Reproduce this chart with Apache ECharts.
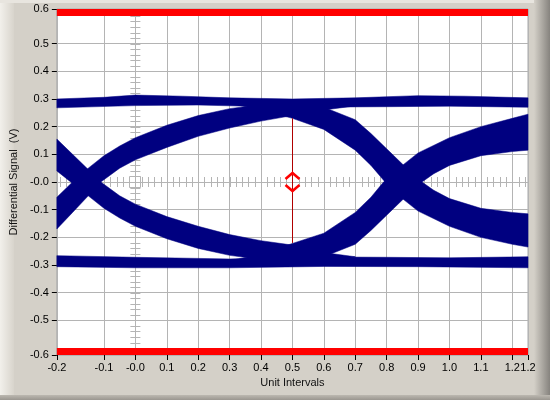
<!DOCTYPE html>
<html><head><meta charset="utf-8">
<script src="https://cdn.jsdelivr.net/npm/echarts@6/dist/echarts.min.js"></script>
<style>html,body{margin:0;padding:0;background:#d4d0c8}#c{width:550px;height:400px}</style>
</head><body><div id="c"></div>
<script>
// ---- axis ranges and tick labels ----
const xMin = -0.25, xMax = 1.25, yMin = -0.625, yMax = 0.625;
const xTickValues = [-0.25,-0.1,0,0.1,0.2,0.3,0.4,0.5,0.6,0.7,0.8,0.9,1.0,1.1,1.2,1.25];
const xTickLabels = ['-0.2','-0.1','-0.0','0.1','0.2','0.3','0.4','0.5','0.6','0.7','0.8','0.9','1.0','1.1','1.2','1.2'];
const yTickValues = [-0.625,-0.5,-0.4,-0.3,-0.2,-0.1,0,0.1,0.2,0.3,0.4,0.5,0.625];
const yTickLabels = ['-0.6','-0.5','-0.4','-0.3','-0.2','-0.1','-0.0','0.1','0.2','0.3','0.4','0.5','0.6'];
const rulerStep = 0.02;

// ---- limit masks ----
const limitHigh = 0.6, limitLow = -0.6;

// ---- eye-height measurement ----
const eyeCenterX = 0.5, eyeTop = 0.23, eyeBottom = -0.22;

// ---- eye diagram bands (x in UI, y in V), each as upper / lower edge ----
const highUpper = [[-0.25,0.300],[-0.1,0.306],[0.0,0.314],[0.15,0.310],[0.3,0.304],[0.5,0.300],[0.7,0.304],[0.9,0.312],[1.05,0.310],[1.25,0.304]];
const highLower = [[-0.25,0.268],[0.0,0.276],[0.2,0.278],[0.5,0.270],[0.8,0.272],[1.0,0.274],[1.25,0.270]];
const lowUpper  = [[-0.25,-0.266],[0.0,-0.272],[0.3,-0.278],[0.5,-0.270],[0.8,-0.272],[1.0,-0.274],[1.25,-0.270]];
const lowLower  = [[-0.25,-0.306],[0.0,-0.310],[0.3,-0.310],[0.6,-0.305],[0.9,-0.306],[1.25,-0.310]];

const rise1Upper = [[-0.25,-0.055],[-0.2,0.0],[-0.15,0.05],[-0.1,0.095],[-0.05,0.13],[0.0,0.16],[0.1,0.205],[0.2,0.24],[0.3,0.265],[0.4,0.28],[0.5,0.29],[0.6,0.295]];
const rise1Lower = [[-0.25,-0.17],[-0.2,-0.11],[-0.15,-0.05],[-0.11,0.0],[-0.05,0.05],[0.0,0.08],[0.1,0.125],[0.2,0.165],[0.3,0.195],[0.4,0.22],[0.5,0.24],[0.6,0.26],[0.7,0.275]];
const fall0Upper = [[-0.25,0.155],[-0.2,0.10],[-0.15,0.045],[-0.11,0.0],[-0.05,-0.05],[0.0,-0.08],[0.1,-0.125],[0.2,-0.16],[0.3,-0.19],[0.4,-0.212],[0.5,-0.228],[0.6,-0.255],[0.7,-0.27]];
const fall0Lower = [[-0.25,0.04],[-0.2,-0.005],[-0.15,-0.05],[-0.1,-0.095],[-0.05,-0.13],[0.0,-0.16],[0.1,-0.205],[0.2,-0.24],[0.3,-0.265],[0.4,-0.28],[0.5,-0.29],[0.6,-0.295]];
const fall1Upper = [[0.35,0.295],[0.5,0.29],[0.6,0.27],[0.7,0.225],[0.75,0.175],[0.8,0.12],[0.85,0.065],[0.9,0.01],[0.95,-0.03],[1.0,-0.06],[1.1,-0.095],[1.2,-0.11],[1.25,-0.115]];
const fall1Lower = [[0.3,0.285],[0.4,0.26],[0.5,0.23],[0.6,0.19],[0.7,0.115],[0.75,0.06],[0.795,0.0],[0.85,-0.06],[0.9,-0.105],[1.0,-0.16],[1.1,-0.2],[1.2,-0.225],[1.25,-0.235]];
const rise2Upper = [[0.3,-0.285],[0.4,-0.26],[0.5,-0.222],[0.6,-0.185],[0.7,-0.11],[0.75,-0.055],[0.79,0.0],[0.85,0.06],[0.9,0.105],[1.0,0.16],[1.1,0.2],[1.2,0.23],[1.25,0.245]];
const rise2Lower = [[0.35,-0.295],[0.5,-0.29],[0.6,-0.27],[0.7,-0.225],[0.75,-0.175],[0.8,-0.12],[0.85,-0.065],[0.9,-0.01],[0.95,0.03],[1.0,0.06],[1.1,0.095],[1.2,0.11],[1.25,0.115]];

const bands = [
  [highUpper, highLower], [lowUpper, lowLower],
  [rise1Upper, rise1Lower], [fall0Upper, fall0Lower],
  [fall1Upper, fall1Lower], [rise2Upper, rise2Lower]
];

const NAVY = '#000080';
const chart = echarts.init(document.getElementById('c'), null, {renderer: 'canvas'});

function labelFmt(values, labels) {
  return function (v) {
    for (let i = 0; i < values.length; i++) if (Math.abs(values[i] - v) < 1e-6) return labels[i];
    return '';
  };
}

const bandSeries = bands.map(function (b) {
  return {
    type: 'custom', z: 3, silent: true, animation: false,
    data: [[0, 0]],
    renderItem: function (params, api) {
      const pts = b[0].concat(b[1].slice().reverse()).map(function (p) { return api.coord(p); });
      return {type: 'polygon', shape: {points: pts}, style: {fill: NAVY, stroke: NAVY, lineWidth: 0.5}};
    }
  };
});

const rulerSeries = {
  type: 'custom', z: 1, silent: true, animation: false,
  data: [[0, 0]],
  renderItem: function (params, api) {
    const children = [];
    const st = {stroke: '#b4b4b4', lineWidth: 1};
    for (let v = Math.ceil(xMin / rulerStep) * rulerStep; v <= xMax + 1e-9; v += rulerStep) {
      const p = api.coord([v, 0]);
      const x = Math.round(p[0]) + 0.5;
      children.push({type: 'line', shape: {x1: x, y1: p[1] - 5, x2: x, y2: p[1] + 5}, style: st});
    }
    for (let v = Math.ceil(yMin / rulerStep) * rulerStep; v <= yMax + 1e-9; v += rulerStep) {
      const p = api.coord([0, v]);
      const y = Math.round(p[1]) + 0.5;
      children.push({type: 'line', shape: {x1: p[0] - 5, y1: y, x2: p[0] + 5, y2: y}, style: st});
    }
    const o = api.coord([0, 0]);
    children.push({type: 'rect', shape: {x: Math.round(o[0]) - 5.5, y: Math.round(o[1]) - 5.5, width: 11, height: 11}, style: {fill: 'none', stroke: '#b4b4b4', lineWidth: 1}});
    return {type: 'group', children: children};
  }
};

const limitSeries = {
  type: 'custom', z: 4, silent: true, animation: false,
  data: [[0, 0]],
  renderItem: function (params, api) {
    const a = api.coord([xMin, yMax]), b = api.coord([xMax, limitHigh]);
    const c = api.coord([xMin, limitLow]), d = api.coord([xMax, yMin]);
    return {type: 'group', children: [
      {type: 'rect', shape: {x: a[0], y: a[1], width: b[0] - a[0], height: b[1] - a[1]}, style: {fill: '#ff0000'}},
      {type: 'rect', shape: {x: c[0], y: c[1], width: d[0] - c[0], height: d[1] - c[1]}, style: {fill: '#ff0000'}}
    ]};
  }
};

const markerSeries = {
  type: 'custom', z: 5, silent: true, animation: false,
  data: [[0, 0]],
  renderItem: function (params, api) {
    const t = api.coord([eyeCenterX, eyeTop]), bt = api.coord([eyeCenterX, eyeBottom]);
    const c = api.coord([eyeCenterX, 0]);
    const x = Math.round(c[0]) + 0.5, y = c[1];
    const red = '#ff0000';
    return {type: 'group', children: [
      {type: 'line', shape: {x1: x, y1: t[1], x2: x, y2: bt[1]}, style: {stroke: '#b00000', lineWidth: 1}},
      {type: 'polyline', shape: {points: [[x - 7, y - 3], [x, y - 9], [x + 7, y - 3]]}, style: {stroke: red, lineWidth: 2.5, fill: 'none'}},
      {type: 'polyline', shape: {points: [[x - 7, y + 3], [x, y + 9], [x + 7, y + 3]]}, style: {stroke: red, lineWidth: 2.5, fill: 'none'}}
    ]};
  }
};

const FONT = 'Liberation Sans';
const option = {
  animation: false,
  backgroundColor: '#d4d0c8',
  graphic: [
    {type: 'rect', z: -10, shape: {x: 0, y: 0, width: 14, height: 400},
     style: {fill: new echarts.graphic.LinearGradient(0, 0, 1, 0, [{offset: 0, color: '#f2f0eb'}, {offset: 1, color: '#d8d4cc'}])}},
    {type: 'rect', z: -10, shape: {x: 0, y: 0, width: 550, height: 3}, style: {fill: '#e8e5df'}},
    {type: 'rect', z: -10, shape: {x: 534, y: 0, width: 16, height: 400},
     style: {fill: new echarts.graphic.LinearGradient(0, 0, 1, 0, [{offset: 0, color: '#d4d0c8'}, {offset: 1, color: '#86837e'}])}},
    {type: 'rect', z: -10, shape: {x: 0, y: 395, width: 550, height: 5},
     style: {fill: new echarts.graphic.LinearGradient(0, 0, 0, 1, [{offset: 0, color: '#bcb8b0'}, {offset: 1, color: '#9a9690'}])}}
  ],
  grid: {left: 56, top: 9, right: 22, bottom: 45, show: true, backgroundColor: '#ffffff', borderColor: '#a8a8a8', borderWidth: 1},
  xAxis: {
    type: 'value', min: xMin, max: xMax, splitNumber: 15, minInterval: 0.1, maxInterval: 0.1,
    name: 'Unit Intervals', nameLocation: 'middle', nameGap: 22,
    nameTextStyle: {fontFamily: FONT, fontSize: 11, color: '#111'},
    axisLine: {show: false, onZero: false},
    axisTick: {show: true, length: 5, lineStyle: {color: '#000'}, customValues: xTickValues},
    axisLabel: {customValues: xTickValues, formatter: labelFmt(xTickValues, xTickLabels), fontFamily: FONT, fontSize: 11, color: '#000', margin: 7},
    splitLine: {show: true, lineStyle: {color: '#b4b4b4', width: 1}}
  },
  yAxis: {
    type: 'value', min: yMin, max: yMax, splitNumber: 12, minInterval: 0.1, maxInterval: 0.1,
    name: 'Differential Signal  (V)', nameLocation: 'middle', nameGap: 31,
    nameTextStyle: {fontFamily: FONT, fontSize: 11, color: '#111'},
    axisLine: {show: false, onZero: false},
    axisTick: {show: true, length: 5, lineStyle: {color: '#000'}, customValues: yTickValues},
    axisLabel: {customValues: yTickValues, formatter: labelFmt(yTickValues, yTickLabels), fontFamily: FONT, fontSize: 11, color: '#000', margin: 8},
    splitLine: {show: true, lineStyle: {color: '#b4b4b4', width: 1}}
  },
  series: [rulerSeries].concat(bandSeries, [limitSeries, markerSeries])
};
chart.setOption(option);
</script>
</body></html>
